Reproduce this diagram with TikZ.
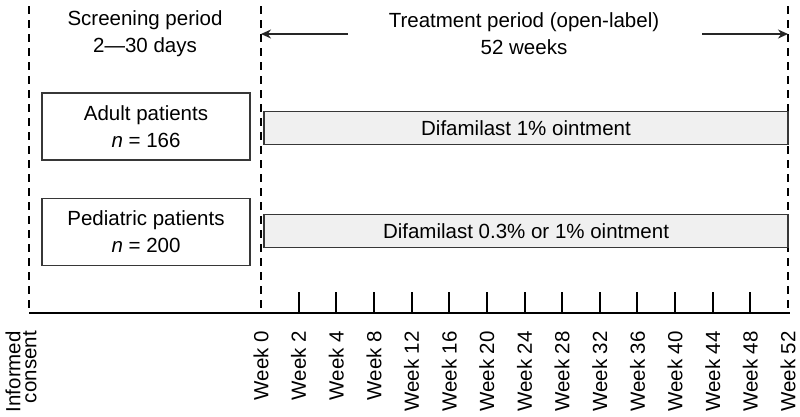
\documentclass[tikz,border=0pt]{standalone}
\usepackage{fontspec}
\setmainfont{Liberation Sans}
\usetikzlibrary{arrows.meta, positioning}
\definecolor{barfill}{RGB}{240,240,240}
\definecolor{edgegray}{RGB}{55,55,55}
\newcommand{\figfont}{\fontsize{20.5}{27}\selectfont}
\tikzset{
    groupbox/.style={
        rectangle, draw=edgegray, line width=1.5pt, fill=white, inner sep=0pt,
        minimum width=208pt, minimum height=67pt, align=center, font=\figfont
    },
    drugbar/.style={
        rectangle, draw=edgegray, line width=1.5pt, fill=barfill, inner sep=0pt,
        minimum width=524pt, minimum height=33pt, font=\figfont
    },
    phaseline/.style={draw=black, line width=2.3pt, dash pattern=on 8pt off 6pt},
    timeline/.style={draw=black, line width=2.5pt},
    tickmark/.style={draw=black, line width=2pt},
    connection/.style={draw=black!85, line width=1.5pt, -{Stealth[length=10pt,width=9pt]}},
    label/.style={font=\figfont, align=center},
    weeklabel/.style={font=\figfont, rotate=90, anchor=east, inner sep=0pt}
}
\begin{document}
\begin{tikzpicture}[x=1pt, y=-1pt]
\useasboundingbox (0,0) rectangle (800,416);

% Phase boundaries
\coordinate (consentTop) at (29,6);
\coordinate (consentBase) at (29,313);
\coordinate (startTop) at (261,6);
\coordinate (startBase) at (261,313);
\coordinate (endTop) at (788,6);
\coordinate (endBase) at (788,313);
\coordinate (axisEnd) at (790,313);
\draw[phaseline] (consentTop) -- (consentBase);
\draw[phaseline] (startTop) -- (startBase);
\draw[phaseline] (endTop) -- (endBase);

% Period headings
\node[label] (screening) at (145,33.5) {Screening period\\2—30 days};
\node[label] (treatment) at (524,33.5) {Treatment period (open-label)\\52 weeks};

% Arrows
\coordinate (leftTail) at (348,34);
\coordinate (rightTail) at (702,34);
\draw[connection] (leftTail) -- (startTop |- leftTail);
\draw[connection] (rightTail) -- (endTop |- rightTail);

% Patient groups
\node[groupbox] (adult) at (146,126.5) {Adult patients\\\textit{n} = 166};
\node[groupbox, below=37pt of adult] (pediatric) {Pediatric patients\\\textit{n} = 200};

% Drug bars
\node[drugbar] (adultbar) at (526,128) {Difamilast 1\% ointment};
\node[drugbar] (pedbar) at (526,231) {Difamilast 0.3\% or 1\% ointment};

% Timeline
\draw[timeline] (consentBase) -- (axisEnd);
\foreach \i in {1,...,13}
    \draw[tickmark] ({261+\i*37.643},313) -- ++(0,-21);

% Week labels
\foreach \w [count=\i from 0] in {0,2,4,8,12,16,20,24,28,32,36,40,44,48,52}
    \node[weeklabel] (week\w) at ({261+\i*37.643},331) {Week \w};
\node[weeklabel, align=right, font=\fontsize{20.5}{16}\selectfont] (consent) at (21,331) {Informed\\consent};

\end{tikzpicture}
\end{document}
